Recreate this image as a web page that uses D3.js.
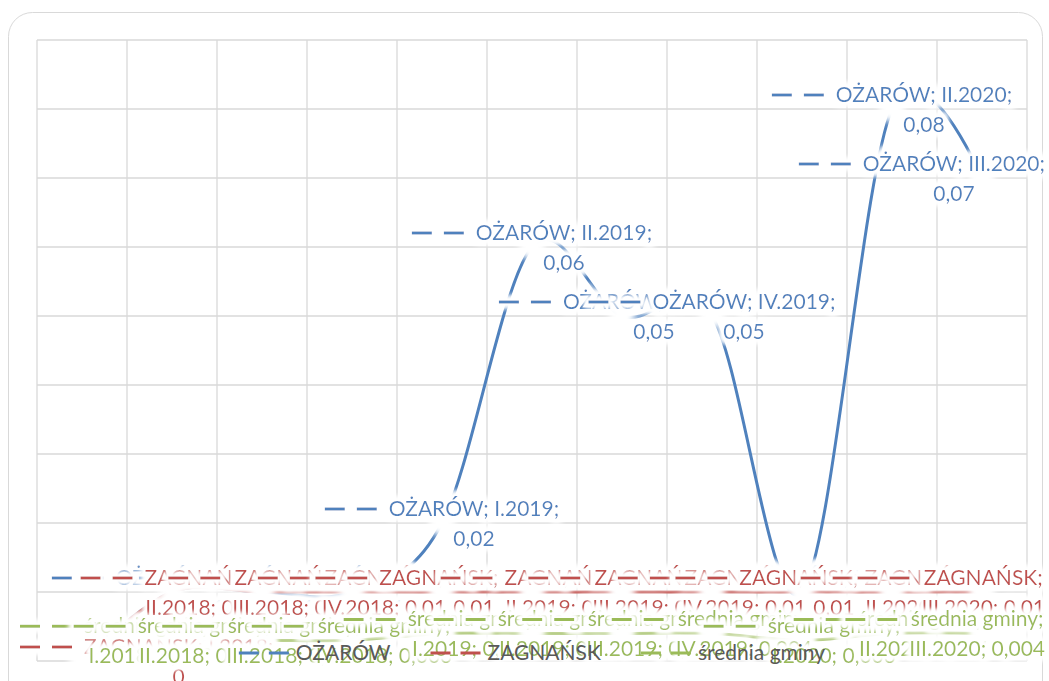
<!DOCTYPE html>
<html>
<head>
<meta charset="utf-8">
<script src="https://cdn.jsdelivr.net/npm/d3@7"></script>
<style>
  html, body { margin: 0; padding: 0; background: #fff; }
  svg { display: block; font-family: Lato, "Open Sans", sans-serif; }
</style>
</head>
<body>
<script>
// quarters on the x axis
const categories = ["I.2018", "II.2018", "III.2018", "IV.2018", "I.2019", "II.2019",
  "III.2019", "IV.2019", "I.2020", "II.2020", "III.2020"];

const seriesNames = ["OŻARÓW", "ZAGNAŃSK", "średnia gminy"];
const ozarow = [0, 0.01, 0.01, 0.01, 0.02, 0.06, 0.05, 0.05, 0.01, 0.08, 0.07];
const zagnansk = [0, 0.01, 0.01, 0.01, 0.01, 0.01, 0.01, 0.01, 0.01, 0.01, 0.01];
const srednia = [0.003, 0.003, 0.003, 0.003, 0.004, 0.004, 0.004, 0.004, 0.003, 0.004, 0.004];

const yTicks = [0, 0.01, 0.02, 0.03, 0.04, 0.05, 0.06, 0.07, 0.08, 0.09];
const colors = ["#4f81bd", "#c0504d", "#9bbb59"];

const width = 1049;
const height = 681;
const labelFont = "21px Lato";
const keyW = 52;
const keyGap = 12;

const svg = d3.select("body").append("svg")
  .attr("width", width)
  .attr("height", height);

const defs = svg.append("defs");

// white halo behind label text (Excel "glow")
const glow = defs.append("filter").attr("id", "glow")
  .attr("x", "-20%").attr("y", "-50%").attr("width", "140%").attr("height", "200%");
glow.append("feMorphology").attr("in", "SourceAlpha").attr("operator", "dilate").attr("radius", 4).attr("result", "d");
glow.append("feGaussianBlur").attr("in", "d").attr("stdDeviation", 2.5).attr("result", "b");
glow.append("feFlood").attr("flood-color", "#fff");
glow.append("feComposite").attr("in2", "b").attr("operator", "in").attr("result", "w");
const gm = glow.append("feMerge");
gm.append("feMergeNode").attr("in", "w");
gm.append("feMergeNode").attr("in", "w");
gm.append("feMergeNode").attr("in", "SourceGraphic");

const soft = defs.append("filter").attr("id", "soft")
  .attr("x", "-100%").attr("y", "-100%").attr("width", "300%").attr("height", "300%");
soft.append("feGaussianBlur").attr("stdDeviation", 3);

// chart frame
svg.append("rect")
  .attr("x", 8.5).attr("y", 12.5)
  .attr("width", 1034).attr("height", 720)
  .attr("rx", 24)
  .attr("fill", "#fff")
  .attr("stroke", "#d9d9d9");

const x = d3.scaleBand().domain(categories).range([37, 1027]);
const y = d3.scaleLinear().domain([0, 0.09]).range([661, 40]);
const px = (i) => x(categories[i]) + x.bandwidth() / 2;

// gridlines
const grid = svg.append("g").attr("stroke", "#d9d9d9").attr("stroke-width", 1.3);
grid.selectAll("line.v")
  .data(categories.map((c) => x(c)).concat([x.range()[1]]))
  .join("line")
  .attr("class", "v")
  .attr("x1", (d) => d).attr("x2", (d) => d)
  .attr("y1", y(0.09)).attr("y2", y(0));
grid.selectAll("line.h")
  .data(yTicks)
  .join("line")
  .attr("class", "h")
  .attr("x1", x.range()[0]).attr("x2", x.range()[1])
  .attr("y1", (d) => y(d)).attr("y2", (d) => y(d));

const allSeries = [ozarow, zagnansk, srednia];

// smoothed lines
const line = d3.line()
  .x((d, i) => px(i))
  .y((d) => y(d))
  .curve(d3.curveCatmullRom.alpha(0));

svg.append("g").selectAll("path")
  .data(allSeries)
  .join("path")
  .attr("fill", "none")
  .attr("stroke", (d, k) => colors[k])
  .attr("stroke-width", 3)
  .attr("d", line);

// hidden white markers
svg.append("g").attr("filter", "url(#soft)").selectAll("g")
  .data(allSeries)
  .join("g")
  .selectAll("circle")
  .data((d) => d)
  .join("circle")
  .attr("cx", (d, i) => px(i))
  .attr("cy", (d) => y(d))
  .attr("r", 13)
  .attr("fill", "#fff");

// text measuring
const probe = svg.append("text").style("font", labelFont).attr("visibility", "hidden");
function measure(s) {
  probe.text(s);
  return probe.node().getComputedTextLength();
}
const maxW = (measure("ZAGNAŃSK; I.2018;") + measure("ZAGNAŃSK; II.2018;")) / 2;
const fmt = (v) => String(v).replace(".", ",");

// data labels: legend key + "series; category; value", wrapped into two lines
const labels = svg.append("g");
allSeries.forEach((values, k) => {
  values.forEach((v, i) => {
    const tokens = [seriesNames[k] + ";", categories[i] + ";", fmt(v)];
    let l1 = tokens[0];
    let j = 1;
    while (j < tokens.length && measure(l1 + " " + tokens[j]) <= maxW) {
      l1 += " " + tokens[j];
      j++;
    }
    const l2 = tokens.slice(j).join(" ");
    const textW = Math.max(measure(l1), measure(l2));
    const blockW = keyW + keyGap + textW;
    let left = px(i) - blockW / 2;
    left = Math.max(20, Math.min(left, 1045 - blockW));
    const cy = y(v);
    const tc = left + keyW + keyGap + textW / 2;

    const g = labels.append("g").attr("filter", "url(#glow)");
    g.append("line")
      .attr("x1", left).attr("x2", left + keyW)
      .attr("y1", cy - 14).attr("y2", cy - 14)
      .attr("stroke", colors[k])
      .attr("stroke-width", 3)
      .attr("stroke-dasharray", "20 12");
    g.append("text")
      .attr("x", tc).attr("y", cy - 7)
      .attr("text-anchor", "middle")
      .attr("fill", colors[k])
      .style("font", labelFont)
      .text(l1);
    g.append("text")
      .attr("x", tc).attr("y", cy + 23)
      .attr("text-anchor", "middle")
      .attr("fill", colors[k])
      .style("font", labelFont)
      .text(l2);
  });
});

// legend
const legendY = 653;
const itemW = seriesNames.map((n) => 50 + 7 + measure(n));
const legendGap = 40;
const legendTotal = d3.sum(itemW) + legendGap * (seriesNames.length - 1);
let lx = (x.range()[0] + x.range()[1]) / 2 - legendTotal / 2;
const legend = svg.append("g");
seriesNames.forEach((n, k) => {
  legend.append("line")
    .attr("x1", lx).attr("x2", lx + 50)
    .attr("y1", legendY).attr("y2", legendY)
    .attr("stroke", colors[k])
    .attr("stroke-width", 3)
    .attr("stroke-dasharray", "20 10");
  legend.append("text")
    .attr("x", lx + 57).attr("y", legendY + 7)
    .attr("fill", "#595959")
    .style("font", labelFont)
    .text(n);
  lx += itemW[k] + legendGap;
});
</script>
</body>
</html>
